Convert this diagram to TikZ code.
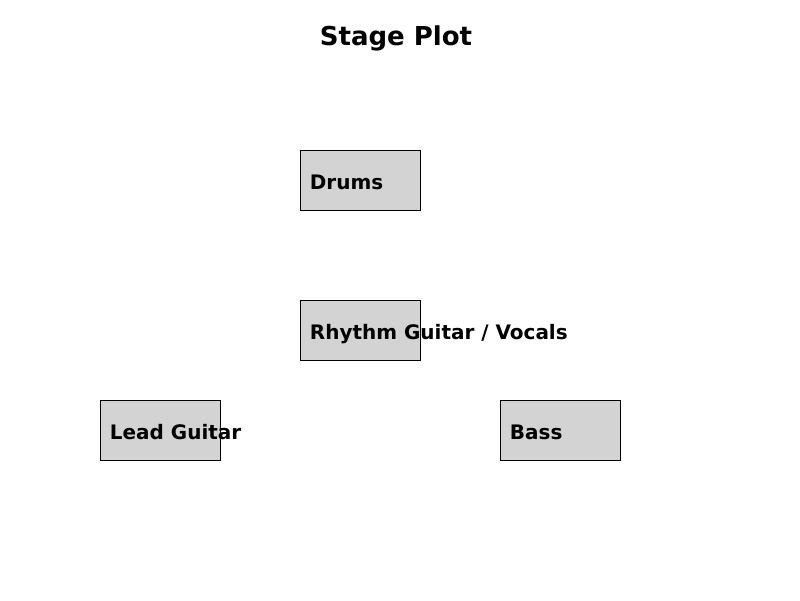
\documentclass[tikz,border=0pt]{standalone}
\usepackage{fontspec}
\setmainfont{DejaVu Sans}
\usepackage{xcolor}
\usetikzlibrary{positioning}
\definecolor{stagegray}{RGB}{211,211,211}

\begin{document}
\begin{tikzpicture}[
  x=0.025cm, y=-0.025cm,
  spot/.style={
    rectangle, draw=black, fill=stagegray, line width=0.5pt,
    minimum width=3cm, minimum height=1.5cm, inner sep=0pt
  },
  tag/.style={font=\fontsize{14.2}{16}\selectfont\bfseries, inner sep=0pt, anchor=base west},
  heading/.style={font=\fontsize{18.5}{22}\selectfont\bfseries, inner sep=0pt, anchor=base}
]
\useasboundingbox (0,0) rectangle (800,600);

% Title
\node[heading] (title) at (396,45.5) {Stage Plot};

% Positions on stage
\node[spot] (drums)  at (360,180) {};
\node[spot] (rhythm) at (360,330) {};
\node[spot] (lead)   at (160,430) {};
\node[spot] (bass)   at (560,430) {};

% Labels
\node[right=0.25cm of drums.west,  tag, yshift=-0.245cm] (drumslbl)  {Drums};
\node[right=0.25cm of rhythm.west, tag, yshift=-0.245cm] (rhythmlbl) {Rhythm Guitar / Vocals};
\node[right=0.25cm of lead.west,   tag, yshift=-0.245cm] (leadlbl)   {Lead Guitar};
\node[right=0.25cm of bass.west,   tag, yshift=-0.245cm] (basslbl)   {Bass};

\end{tikzpicture}
\end{document}
